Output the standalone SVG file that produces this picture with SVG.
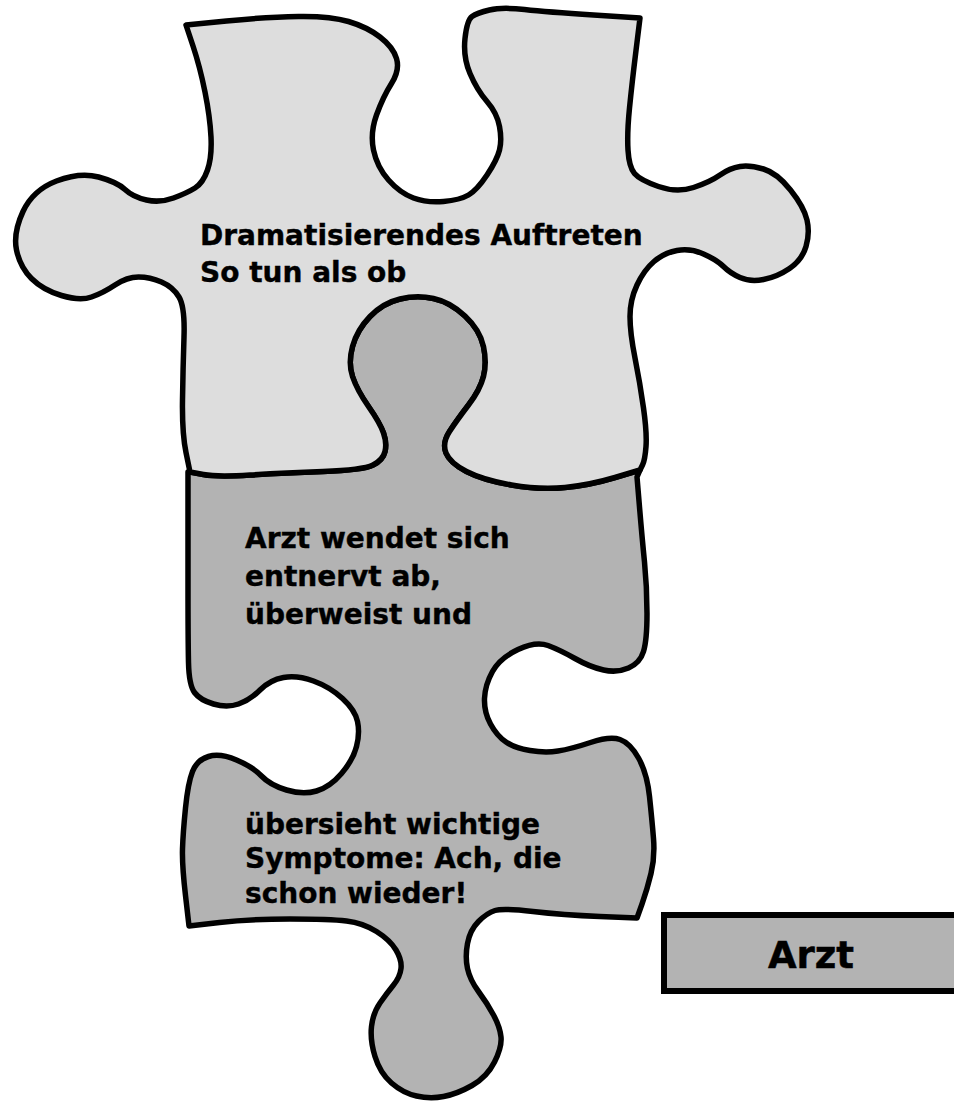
<svg xmlns="http://www.w3.org/2000/svg" width="954" height="1103" viewBox="0 0 954 1103">
<style>
.piece{stroke:#000;stroke-width:5.5;stroke-linejoin:round;stroke-linecap:round}
.light{fill:#dddddd}
.dark{fill:#b3b3b3}
.lbl{font-family:"DejaVu Sans","Verdana",sans-serif;font-weight:bold;font-size:28px;fill:#000;stroke:#000;stroke-width:0.4}
.box{fill:#b3b3b3;stroke:#000;stroke-width:6}
.boxlbl{font-family:"DejaVu Sans","Verdana",sans-serif;font-weight:bold;font-size:37px;fill:#000;stroke:#000;stroke-width:0.5}
</style>
<rect width="954" height="1103" fill="#ffffff"/>
<g id="piece-bottom">
<path class="piece dark" d="M188,472 L188,501 Q188,530 188,585 Q188,640 188.5,662.5 Q189,685 194.5,692.5 Q200,700 213.5,704 Q227,708 238.5,704 Q250,700 260,690 Q270,680 283.5,677.5 Q297,675 313.5,681 Q330,687 342.5,698.5 Q355,710 357.5,721.5 Q360,733 356.5,746.5 Q353,760 341.5,773.5 Q330,787 316.5,791 Q303,795 286.5,790 Q270,785 261.5,776 Q253,767 236.5,760 Q220,753 208.5,756.5 Q197,760 192.5,771.5 Q188,783 185.5,808 Q183,833 182.5,849 Q182,865 185.5,895.5 L189,926 L219.5,922.5 Q250,919 290,919 Q330,919 346.5,921 Q363,923 376.5,931.5 Q390,940 396,950 Q402,960 401,968.5 Q400,977 393.5,985 Q387,993 380,1003 Q373,1013 371.5,1026.5 Q370,1040 375,1056.5 Q380,1073 391.5,1083 Q403,1093 416.5,1096 Q430,1099 443.5,1096.5 Q457,1094 472,1085.5 Q487,1077 494.5,1062 Q502,1047 501,1037 Q500,1027 493.5,1015 Q487,1003 478.5,991.5 Q470,980 467.5,968.5 Q465,957 467.5,943.5 Q470,930 478.5,921.5 Q487,913 495,910.5 Q503,908 533,911.5 Q563,915 600,916.5 L637,918 L642,904 Q647,890 651,873.5 Q655,857 653.5,838.5 Q652,820 649.5,796.5 Q647,773 638.5,758 Q630,743 620,739.5 Q610,736 590.5,742.5 Q571,749 558,751 Q545,753 530,750.5 Q515,748 506,742 Q497,736 490.5,724 Q484,712 484.5,698.5 Q485,685 492.5,671.5 Q500,658 518,649.5 Q536,641 548,645.5 Q560,650 575,658.5 Q590,667 603.5,670 Q617,673 628.5,668 Q640,663 643.5,651.5 Q647,640 647,613.5 Q647,587 644.5,562 Q642,537 639.5,507 L637,477 L640,470 L615,477.5 Q590,485 565,487.5 Q540,490 511.5,485 Q483,480 466.5,471.5 Q450,463 446,453 Q442,443 449.5,431.5 Q457,420 468.5,405 Q480,390 483.5,376.5 Q487,363 483.5,346.5 Q480,330 465,316 Q450,302 433.5,298.5 Q417,295 400,299 Q383,303 370,316.5 Q357,330 352.5,346.5 Q348,363 352.5,376.5 Q357,390 368.5,406.5 Q380,423 383.5,433 Q387,443 385,451.5 Q383,460 373,465 Q363,470 323,471.5 Q283,473 250,475 Q217,477 203.5,474.5 L190,472 Z"/>
<text class="lbl" x="245" y="548">Arzt wendet sich</text>
<text class="lbl" x="245" y="586">entnervt ab,</text>
<text class="lbl" x="245" y="624">überweist und</text>
<text class="lbl" x="245" y="834">übersieht wichtige</text>
<text class="lbl" x="245" y="868">Symptome: Ach, die</text>
<text class="lbl" x="245" y="903">schon wieder!</text>
</g>
<g id="piece-top">
<path class="piece light" d="M186,25 L226.5,21 Q267,17 298.5,16.5 Q330,16 348.5,21.5 Q367,27 380,37 Q393,47 396.5,58.5 Q400,70 391.5,83.5 Q383,97 376.5,115 Q370,133 373.5,150 Q377,167 388.5,180 Q400,193 413.5,198 Q427,203 443.5,201.5 Q460,200 468.5,195 Q477,190 487,175 Q497,160 499.5,150 Q502,140 499.5,126.5 Q497,113 487,101.5 Q477,90 470,73.5 Q463,57 465,38.5 Q467,20 472,16.5 Q477,13 489.5,10 Q502,7 524.5,9.5 Q547,12 593.5,15 L640,18 L636,50.5 Q632,83 629.5,108 Q627,133 628,150 Q629,167 634.5,173.5 Q640,180 658.5,186.5 Q677,193 693.5,187.5 Q710,182 720,175 Q730,168 740,166.5 Q750,165 763.5,169 Q777,173 790.5,190 Q804,207 807,220 Q810,233 806,246.5 Q802,260 789.5,268.5 Q777,277 763.5,279.5 Q750,282 740,277.5 Q730,273 723.5,266.5 Q717,260 703.5,254 Q690,248 677,250.5 Q664,253 654,261.5 Q644,270 637,285 Q630,300 630,316.5 Q630,333 635,358 Q640,383 643.5,408 Q647,433 646,446.5 Q645,460 642.5,465 L640,470 L615,477.5 Q590,485 565,487.5 Q540,490 511.5,485 Q483,480 466.5,471.5 Q450,463 446,453 Q442,443 449.5,431.5 Q457,420 468.5,405 Q480,390 483.5,376.5 Q487,363 483.5,346.5 Q480,330 465,316 Q450,302 433.5,298.5 Q417,295 400,299 Q383,303 370,316.5 Q357,330 352.5,346.5 Q348,363 352.5,376.5 Q357,390 368.5,406.5 Q380,423 383.5,433 Q387,443 385,451.5 Q383,460 373,465 Q363,470 323,471.5 Q283,473 250,475 Q217,477 203.5,474.5 L190,472 L186,452.5 Q182,433 182.5,400 Q183,367 184,337 Q185,307 179,297 Q173,287 161.5,282 Q150,277 138.5,277 Q127,277 115,285 Q103,293 91.5,297 Q80,301 61.5,295.5 Q43,290 31.5,278.5 Q20,267 16.5,250 Q13,233 23,211.5 Q33,190 56.5,181 Q80,172 98.5,177 Q117,182 125,189.5 Q133,197 146.5,200 Q160,203 173.5,198 Q187,193 195,188 Q203,183 207.5,170 Q212,157 211,137 Q210,117 205,92 Q200,67 193,46 L186,25 Z"/>
<text class="lbl" x="200" y="245">Dramatisierendes Auftreten</text>
<text class="lbl" x="200" y="282">So tun als ob</text>
</g>
<g id="box-arzt">
<rect class="box" x="664" y="915" width="300" height="76"/>
<text class="boxlbl" x="811" y="968" text-anchor="middle">Arzt</text>
</g>
<g id="connectors"/>
</svg>
